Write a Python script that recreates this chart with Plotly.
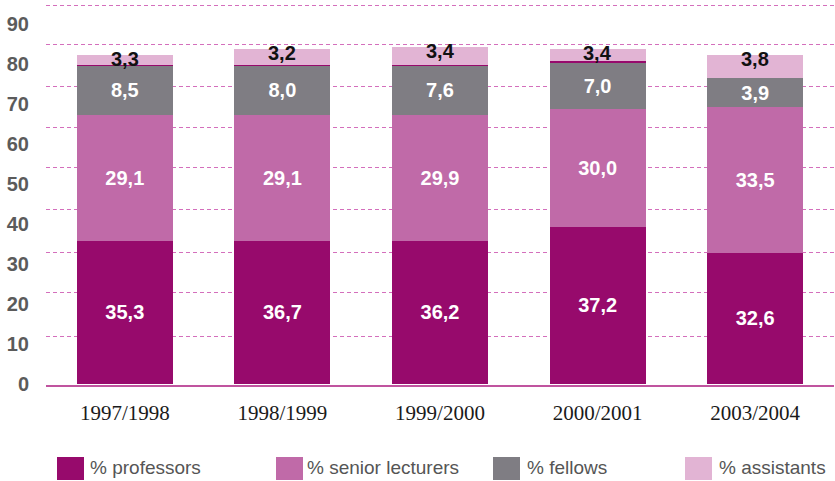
import plotly.graph_objects as go

# ---- data ----
years = ["1997/1998", "1998/1999", "1999/2000", "2000/2001", "2003/2004"]

# drawn segment heights (as they appear against the axis)
professors = [35.6, 35.6, 35.6, 39.2, 32.7]
senior_lecturers = [31.5, 31.5, 31.5, 29.4, 36.4]
fellows = [12.4, 12.4, 12.4, 11.7, 7.3]
divider = [0.25, 0.25, 0.25, 0.25, 0.0]
assistants = [2.4, 3.8, 4.35, 3.0, 5.7]

# printed value labels
prof_labels = ["35,3", "36,7", "36,2", "37,2", "32,6"]
senior_labels = ["29,1", "29,1", "29,9", "30,0", "33,5"]
fellow_labels = ["8,5", "8,0", "7,6", "7,0", "3,9"]
assistant_labels = ["3,3", "3,2", "3,4", "3,4", "3,8"]

series_names = ["% professors", "% senior lecturers", "% fellows", "% assistants"]

y_tick_values = [0, 10, 20, 30, 40, 50, 60, 70, 80, 90]
y_tick_text = ["0", "10", "20", "30", "40", "50", "60", "70", "80", "90"]
grid_values = [11.75, 22.75, 32.75, 43.5, 54.0, 64.0, 74.25, 84.75, 94.5]

# ---- styles ----
C_PROF = "#970a6c"
C_SEN = "#c06aa8"
C_FEL = "#7f7d83"
C_ASS = "#e2b4d4"
colors = [C_PROF, C_SEN, C_FEL, C_ASS]

SANS = "Liberation Sans, Arial, sans-serif"
SERIF = "Liberation Serif, Times New Roman, serif"

W, H = 835, 481
ML, MR, MT, MB = 46, 1, 0, 96
PW, PH = W - ML - MR, H - MT - MB

label_font = dict(family=SANS, size=20, color="white", weight="bold")

fig = go.Figure()
fig.add_bar(x=years, y=professors, name=series_names[0], marker_color=C_PROF,
            text=prof_labels, textposition="inside", insidetextanchor="middle",
            textfont=label_font, textangle=0, constraintext="none", hoverinfo="x+name")
fig.add_bar(x=years, y=senior_lecturers, name=series_names[1], marker_color=C_SEN,
            text=senior_labels, textposition="inside", insidetextanchor="middle",
            textfont=label_font, textangle=0, constraintext="none", hoverinfo="x+name")
fig.add_bar(x=years, y=fellows, name=series_names[2], marker_color=C_FEL,
            text=fellow_labels, textposition="inside", insidetextanchor="middle",
            textfont=label_font, textangle=0, constraintext="none", hoverinfo="x+name")
fig.add_bar(x=years, y=divider, marker_color=C_PROF, showlegend=False, hoverinfo="skip")
fig.add_bar(x=years, y=assistants, name=series_names[3], marker_color=C_ASS,
            hoverinfo="x+name")

for trace in fig.data:
    trace.marker.line.width = 0

# assistant labels near the top of each stack
for i, yr in enumerate(years):
    top = professors[i] + senior_lecturers[i] + fellows[i] + divider[i] + assistants[i]
    fig.add_annotation(x=yr, y=top, text=assistant_labels[i], showarrow=False,
                       yanchor="middle", yshift=-4,
                       font=dict(family=SANS, size=20, color="#111111", weight="bold"))

# hand-made legend (wide rectangular swatches)
def px_x(px):
    return (px - ML) / PW

def px_y(py):
    return (MT + PH - py) / PH

legend_swatch_left = [57, 276, 493, 685]
legend_text_left = [88, 305, 525, 717]
for i, name in enumerate(series_names):
    fig.add_shape(type="rect", xref="paper", yref="paper",
                  x0=px_x(legend_swatch_left[i]), x1=px_x(legend_swatch_left[i] + 27),
                  y0=px_y(480), y1=px_y(457),
                  fillcolor=colors[i], line_width=0)
    fig.add_annotation(xref="paper", yref="paper", x=px_x(legend_text_left[i]), y=px_y(467),
                       xanchor="left", yanchor="middle", showarrow=False, text=name,
                       font=dict(family=SANS, size=19, color="#555555"))

ymin = -1.5 / 4
ymax = ymin + PH / 4

fig.update_layout(
    width=W, height=H,
    margin=dict(l=ML, r=MR, t=MT, b=MB),
    barmode="stack", bargap=0.39,
    plot_bgcolor="white", paper_bgcolor="white",
    showlegend=False,
    xaxis=dict(showline=True, linecolor="#c0549f", linewidth=2, showgrid=False,
               ticks="", ticklabelstandoff=8,
               tickfont=dict(family=SERIF, size=21, color="#1a1a1a")),
    yaxis=dict(range=[ymin, ymax], showgrid=False, zeroline=False, showline=False,
               tickmode="array", tickvals=y_tick_values, ticktext=y_tick_text,
               ticks="", ticklabelstandoff=16,
               tickfont=dict(family=SANS, size=20, color="#5b5b5b", weight="bold"),
               minor=dict(tickmode="array", tickvals=grid_values, showgrid=True,
                          gridcolor="#d46fbc", gridwidth=1.3, griddash="4px,3px",
                          ticks="")),
)

fig.write_html("out.html", config={"displayModeBar": False},
               post_script="document.body.style.margin='0';")
